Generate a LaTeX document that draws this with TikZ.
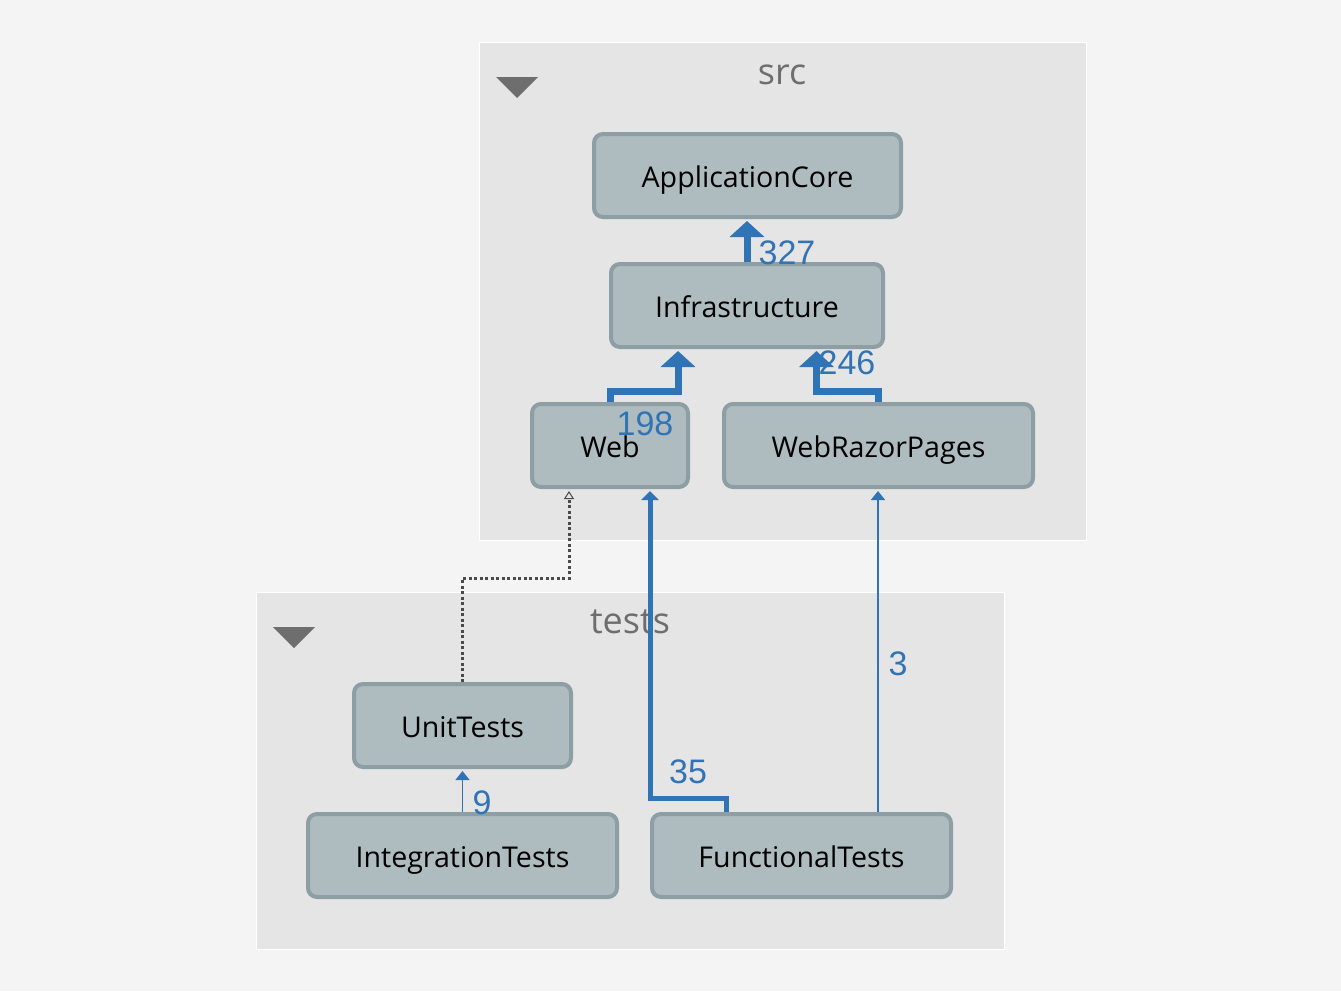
\documentclass[tikz,border=0pt]{standalone}
\usepackage{fontspec}
\setmainfont{Open Sans}
\newfontfamily\numfont{Liberation Sans}
\usetikzlibrary{arrows.meta}
\definecolor{bgc}{HTML}{F4F4F4}
\definecolor{groupc}{HTML}{E5E5E5}
\definecolor{boxfill}{HTML}{AEBBBF}
\definecolor{boxline}{HTML}{8D9EA5}
\definecolor{edgeblue}{HTML}{3174B5}
\definecolor{titlec}{HTML}{6E6E6E}
\definecolor{depc}{HTML}{4A4A4A}
\pgfdeclarelayer{bg}
\pgfdeclarelayer{edges}
\pgfsetlayers{bg,edges,main}
\tikzset{
  box/.style={draw=boxline, fill=boxfill, line width=4pt, rounded corners=9pt,
    minimum height=83pt, inner sep=0pt, text height=24pt, text depth=0pt,
    font=\fontsize{28.6}{31}\selectfont},
  groupbox/.style={fill=groupc, draw=white, line width=1pt},
  grouptitle/.style={anchor=base, text=titlec, inner sep=0pt, font=\fontsize{36}{40}\selectfont},
  collapse/.style={fill=titlec},
  num/.style={text=edgeblue, inner sep=0pt, text height=24pt, text depth=0pt,
    font=\numfont\fontsize{34}{36}\selectfont},
  heavy/.style={draw=edgeblue, line width=7pt, shorten >=2pt, -{Triangle[width=34pt,length=16pt]}},
  medium/.style={draw=edgeblue, line width=5pt, shorten >=2pt, -{Triangle[width=17pt,length=9pt]}},
  light/.style={draw=edgeblue, line width=1.5pt, shorten >=2pt, -{Triangle[width=14pt,length=9pt]}},
  dep/.style={draw=depc, line width=3pt, dash pattern=on 3pt off 2.5pt, shorten >=2pt,
    -{Triangle[open,width=10pt,length=8pt,line width=1pt]}},
}
\begin{document}
\begin{tikzpicture}[x=1pt,y=-1pt]
\useasboundingbox (0,0) rectangle (1341,991);
\begin{pgfonlayer}{bg}
  \fill[bgc] (0,0) rectangle (1341,991);
  \draw[groupbox] (479,42) rectangle (1086,540);
  \draw[groupbox] (256,592) rectangle (1004,949);
  \node[grouptitle] (srctitle) at (782,84) {src};
  \node[grouptitle] (teststitle) at (630,633) {tests};
  \fill[collapse] (496,77) -- (538,77) -- (517,98) -- cycle;
  \fill[collapse] (273,627) -- (315,627) -- (294,648) -- cycle;
\end{pgfonlayer}

\node[box, minimum width=307pt] (app) at (747.5,175.5) {ApplicationCore};
\node[box, minimum width=272pt] (infra) at (747,305.5) {Infrastructure};
\node[box, minimum width=156pt] (web) at (610,445.5) {Web};
\node[box, minimum width=309pt] (wrp) at (878.5,445.5) {WebRazorPages};
\node[box, minimum width=217pt] (ut) at (462.5,725.5) {UnitTests};
\node[box, minimum width=309pt] (it) at (462.5,855.5) {IntegrationTests};
\node[box, minimum width=299pt] (ft) at (801.5,855.5) {FunctionalTests};

\begin{pgfonlayer}{edges}
  \draw[heavy] (infra.north) -- (infra.north |- app.south);
  \draw[heavy] (web.north) -- ++(0,-11) -| ([xshift=-69pt]infra.south);
  \draw[heavy] (wrp.north) -- ++(0,-11) -| ([xshift=69.5pt]infra.south);
  \draw[medium] ([xshift=-75.5pt]ft.north) -- ++(0,-14) -| ([xshift=40pt]web.south);
  \draw[light] ([xshift=76.5pt]ft.north) -- ([xshift=76.5pt]ft.north |- wrp.south);
  \draw[light] (it.north) -- (ut.south);
  \draw[dep] (ut.north) -- ++(0,-104) -| ([xshift=-41pt]web.south);
\end{pgfonlayer}

\node[num] (n327) at (787,252) {327};
\node[num] (n198) at (645,423) {198};
\node[num] (n246) at (847,362) {246};
\node[num] (n35) at (688,771) {35};
\node[num] (n3) at (898,663) {3};
\node[num] (n9) at (482,802) {9};
\end{tikzpicture}
\end{document}
